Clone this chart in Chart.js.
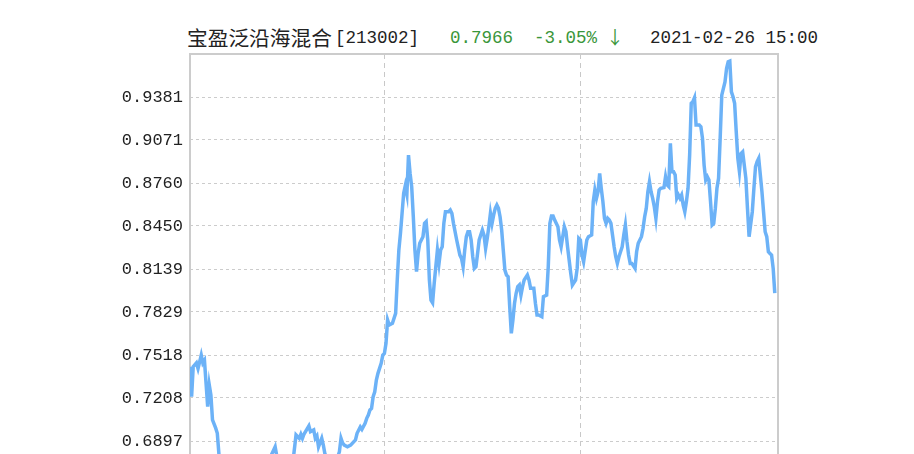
<!DOCTYPE html>
<html>
<head>
<meta charset="utf-8">
<script src="https://cdn.jsdelivr.net/npm/chart.js@4.4.0/dist/chart.umd.min.js"></script>
<style>
html, body { margin: 0; padding: 0; background: #fff; overflow: hidden; }
#wrap { position: relative; width: 914px; height: 454px; overflow: hidden; }
#title span { position: absolute; white-space: pre; line-height: 1; }
.cn { font-family: "Noto Sans CJK SC"; font-size: 20.7px; color: #222; top: 27px; }
.mono { font-family: "Liberation Mono"; font-size: 17.5px; top: 30px; }
.arrow { font-family: "Noto Sans CJK SC"; font-size: 18px; top: 27px; }
.black { color: #222; }
.green { color: #3a963a; }
canvas { position: absolute; left: 0; top: 0; }
</style>
</head>
<body>
<div id="wrap">
  <div id="title">
    <span class="cn" style="left:187px">宝盈泛沿海混合</span>
    <span class="mono black" style="left:335px">[213002]</span>
    <span class="mono green" style="left:450px">0.7966  -3.05%</span>
    <span class="arrow green" style="left:606px">↓</span>
    <span class="mono black" style="left:650px">2021-02-26 15:00</span>
  </div>
  <canvas id="navChart" width="914" height="560"></canvas>
</div>
<script>
// days counted from 2020-02-26, unit net value
var days = [0, 1, 2, 4, 5, 7, 8, 9, 10, 11, 12, 13, 14, 16, 17, 18, 20, 22, 26, 30,
    34, 39, 42, 47, 50, 53, 54, 57, 61, 64, 66, 68, 69, 70, 71, 74, 75, 77, 78, 79,
    80, 82, 83, 84, 86, 88, 91, 93, 94, 95, 96, 98, 100, 103, 104, 106, 107, 109, 110, 111,
    112, 113, 114, 115, 116, 117, 119, 120, 121, 122, 123, 124, 126, 128, 129, 130, 131, 132, 133, 134,
    135, 136, 137, 138, 139, 140, 141, 142, 143, 145, 146, 147, 148, 149, 150, 151, 152, 153, 154, 155,
    156, 157, 158, 159, 161, 162, 163, 164, 166, 168, 169, 170, 171, 172, 173, 174, 175, 176, 177, 178,
    179, 180, 182, 183, 184, 185, 186, 187, 188, 189, 190, 191, 192, 193, 194, 195, 196, 197, 198, 199,
    200, 201, 202, 203, 204, 205, 206, 207, 208, 210, 211, 212, 214, 215, 216, 217, 219, 220, 222, 223,
    224, 225, 226, 227, 229, 230, 231, 232, 233, 234, 235, 236, 237, 238, 240, 241, 242, 243, 244, 245,
    247, 248, 250, 251, 252, 253, 254, 255, 256, 257, 258, 259, 260, 261, 262, 263, 264, 265, 266, 267,
    268, 269, 270, 271, 272, 273, 274, 275, 277, 278, 279, 280, 281, 282, 283, 284, 285, 286, 287, 288,
    289, 290, 291, 292, 293, 295, 296, 297, 298, 299, 300, 301, 302, 303, 304, 305, 306, 307, 308, 309,
    310, 311, 312, 313, 314, 315, 317, 318, 319, 320, 321, 322, 323, 324, 325, 326, 327, 328, 329, 330,
    331, 333, 334, 335, 336, 337, 338, 339, 340, 341, 342, 343, 344, 345, 346, 347, 348, 350, 351, 352,
    353, 354, 355, 356, 357, 358, 359, 360, 361, 362, 363, 364];
var navs = [0.7434, 0.7217, 0.7434, 0.7461, 0.7420, 0.7518, 0.7461, 0.7480, 0.7314, 0.7145, 0.7302, 0.7230, 0.7050, 0.6990, 0.6953, 0.6804, 0.6720, 0.6660, 0.6700, 0.6640,
    0.6680, 0.6620, 0.6670, 0.6720, 0.6780, 0.6856, 0.6790, 0.6720, 0.6680, 0.6740, 0.6941, 0.6917, 0.6946, 0.6917, 0.6948, 0.7006, 0.6965, 0.6977, 0.6917, 0.6934,
    0.6856, 0.6917, 0.6868, 0.6804, 0.6740, 0.6710, 0.6750, 0.6820, 0.6917, 0.6883, 0.6868, 0.6856, 0.6868, 0.6905, 0.6953, 0.6999, 0.6982, 0.7025, 0.7061, 0.7085,
    0.7121, 0.7133, 0.7217, 0.7253, 0.7338, 0.7386, 0.7458, 0.7518, 0.7530, 0.7603, 0.7771, 0.7735, 0.7747, 0.7819, 0.8060, 0.8276, 0.8397, 0.8541, 0.8686, 0.8740,
    0.8680, 0.8962, 0.8830, 0.8733, 0.8517, 0.8276, 0.8120, 0.8252, 0.8325, 0.8373, 0.8469, 0.8481, 0.8349, 0.8060, 0.7915, 0.7896, 0.8036, 0.8156, 0.8276, 0.8180,
    0.8276, 0.8300, 0.8469, 0.8553, 0.8553, 0.8565, 0.8541, 0.8469, 0.8349, 0.8240, 0.8216, 0.8156, 0.8276, 0.8373, 0.8409, 0.8409, 0.8349, 0.8228, 0.8144, 0.8156,
    0.8252, 0.8349, 0.8421, 0.8385, 0.8288, 0.8360, 0.8445, 0.8541, 0.8469, 0.8529, 0.8577, 0.8601, 0.8577, 0.8517, 0.8421, 0.8276, 0.8132, 0.8096, 0.8084, 0.7867,
    0.7675, 0.7771, 0.7892, 0.7964, 0.8012, 0.8024, 0.7951, 0.8012, 0.8060, 0.8096, 0.8060, 0.8000, 0.8000, 0.7892, 0.7807, 0.7807, 0.7795, 0.7940, 0.7951, 0.8156,
    0.8469, 0.8522, 0.8522, 0.8493, 0.8445, 0.8349, 0.8300, 0.8373, 0.8445, 0.8409, 0.8300, 0.8204, 0.8108, 0.8024, 0.8060, 0.8144, 0.8361, 0.8349, 0.8240, 0.8192,
    0.8349, 0.8373, 0.8385, 0.8626, 0.8710, 0.8650, 0.8698, 0.8830, 0.8722, 0.8626, 0.8505, 0.8469, 0.8505, 0.8493, 0.8469, 0.8385, 0.8300, 0.8228, 0.8180, 0.8228,
    0.8264, 0.8300, 0.8385, 0.8457, 0.8337, 0.8240, 0.8180, 0.8180, 0.8144, 0.8264, 0.8325, 0.8349, 0.8373, 0.8433, 0.8517, 0.8577, 0.8698, 0.8770, 0.8698, 0.8650,
    0.8589, 0.8505, 0.8626, 0.8710, 0.8722, 0.8727, 0.8806, 0.8746, 0.8734, 0.9047, 0.8842, 0.8842, 0.8818, 0.8650, 0.8674, 0.8650, 0.8674, 0.8601, 0.8553, 0.8626,
    0.8722, 0.8962, 0.9336, 0.9348, 0.9376, 0.9179, 0.9179, 0.9167, 0.9083, 0.8890, 0.8782, 0.8806, 0.8782, 0.8626, 0.8457, 0.8469, 0.8577, 0.8722, 0.8794, 0.9083,
    0.9395, 0.9491, 0.9588, 0.9636, 0.9641, 0.9419, 0.9383, 0.9336, 0.9131, 0.8938, 0.8842, 0.8974, 0.8986, 0.8890, 0.8794, 0.8577, 0.8373, 0.8553, 0.8722, 0.8878,
    0.8914, 0.8938, 0.8818, 0.8698, 0.8553, 0.8409, 0.8373, 0.8264, 0.8252, 0.8240, 0.8144, 0.7966];

var yMin = 0.6587;
var yMax = 0.9692;
var yTickValues = [0.6587, 0.6897, 0.7208, 0.7518, 0.7829, 0.8139, 0.8450, 0.8760, 0.9071, 0.9381];
var xMax = 366;
var xTickDays = [0, 121, 243, 366];
var xTickLabels = ["2020-02-26", "2020-06-26", "2020-10-26", "2021-02-26"];

var points = [];
for (var i = 0; i < days.length; ++i) {
    points.push({ x: days[i], y: navs[i] });
}

/* grey frame round the plot area */
var framePlugin = {
    id: 'frame',
    beforeDatasetsDraw: function (chart) {
        var a = chart.chartArea;
        var ctx = chart.ctx;
        ctx.save();
        ctx.strokeStyle = '#cccccc';
        ctx.lineWidth = 2;
        ctx.setLineDash([]);
        ctx.strokeRect(a.left, a.top, a.right - a.left, a.bottom - a.top);
        ctx.restore();
    }
};

var ctx = document.getElementById("navChart");
var navChart = new Chart(ctx, {
    type: 'line',
    data: {
        datasets: [{
            label: '单位净值',
            data: points,
            borderColor: 'rgb(108,178,247)',
            borderWidth: 3.5,
            pointRadius: 0,
            tension: 0,
            fill: false
        }]
    },
    options: {
        responsive: false,
        animation: false,
        layout: { padding: { top: 54, right: 136, bottom: 36, left: 0 } },
        plugins: {
            legend: { display: false },
            title: { display: false },
            tooltip: { enabled: false }
        },
        scales: {
            x: {
                type: 'linear',
                min: 0,
                max: xMax,
                afterBuildTicks: function (axis) {
                    axis.ticks = xTickDays.map(function (v) { return { value: v }; });
                },
                afterFit: function (axis) { axis.height = 40; },
                grid: { color: '#c8c8c8', lineWidth: 1, drawTicks: false },
                border: { display: false, dash: [5, 4] },
                ticks: {
                    autoSkip: false,
                    maxRotation: 0,
                    padding: 8,
                    color: '#222',
                    font: { family: 'Liberation Mono', size: 17 },
                    callback: function (value, index) { return xTickLabels[index]; }
                }
            },
            y: {
                min: yMin,
                max: yMax,
                afterBuildTicks: function (axis) {
                    axis.ticks = yTickValues.map(function (v) { return { value: v }; });
                },
                afterFit: function (axis) { axis.width = 190; },
                grid: { color: '#cccccc', lineWidth: 1, drawTicks: false },
                border: { display: false, dash: [3, 3] },
                ticks: {
                    padding: 7,
                    color: '#222',
                    font: { family: 'Liberation Mono', size: 17 },
                    callback: function (value) { return value.toFixed(4); }
                }
            }
        }
    },
    plugins: [framePlugin]
});
</script>
</body>
</html>
